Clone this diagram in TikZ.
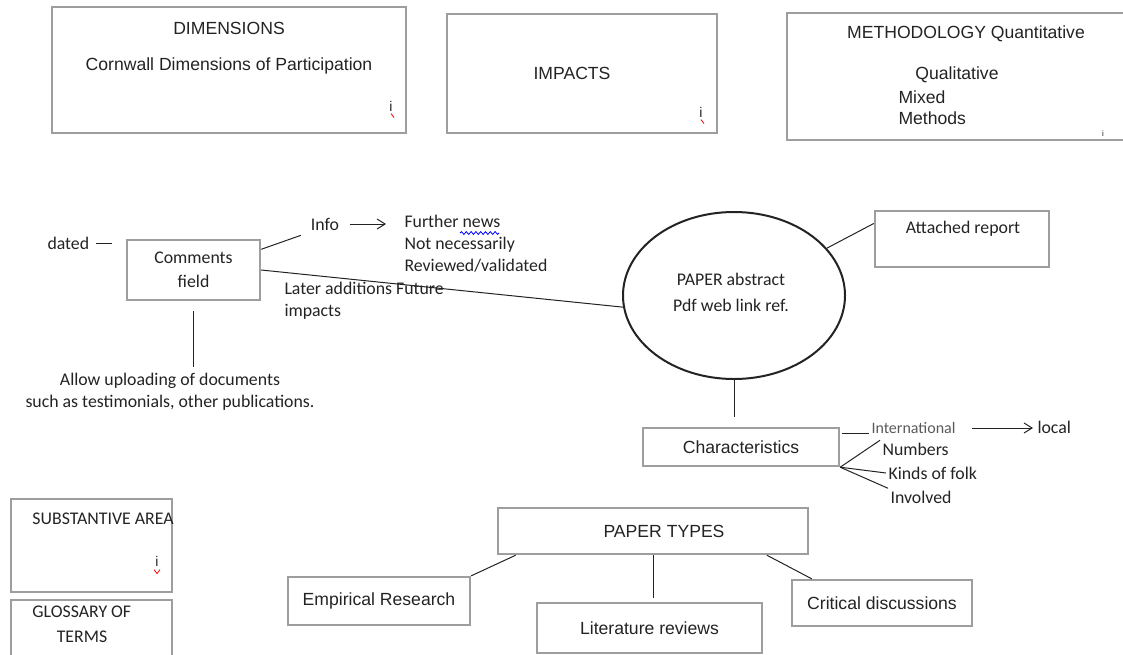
\documentclass[tikz,border=0pt]{standalone}
\usepackage{fontspec}
\setmainfont{Liberation Sans}
\newfontfamily\calfont{Carlito}
\usetikzlibrary{shapes.geometric, arrows.meta, decorations.pathmorphing}

\definecolor{boxgray}{RGB}{158,158,158}
\definecolor{ink}{RGB}{35,35,35}
\definecolor{intlgray}{RGB}{90,90,90}
\newcommand{\arialsz}{\fontsize{8.8}{10.5}\selectfont}
\newcommand{\calsz}{\calfont\fontsize{8.9}{11}\selectfont}

\begin{document}
\begin{tikzpicture}[x = 0.5pt, y = -0.5pt, % one unit = one pixel of the sketch
                > = {Straight Barb[length=4pt, width=5pt]}, % open arrow head
                line width = 0.5pt % line style
            ]

            \tikzstyle{every node}=[text = ink, inner sep = 1pt]
            \tikzstyle{box}=[draw = boxgray, line width = 1.2pt, inner sep = 0pt]
            \tikzstyle{ar}=[font = \arialsz]
            \tikzstyle{ca}=[font = \calsz]
            \tikzstyle{link}=[draw = ink]

            \useasboundingbox (0,0) rectangle (1123,654);

            % top row of boxes
            \node[box, minimum width = 177pt, minimum height = 63pt] (dim) at (229,70) {};
            \node[ar] (dimt) at (229,28) {DIMENSIONS};
            \node[ar] (dimc) at (229,66) {Cornwall Dimensions of Participation};
            \node[ar, font = \fontsize{7}{8}\selectfont] (dimi) at (391,106) {i};
            \draw[red, line width = 0.4pt] (dimi.south) -- ++(3,4);

            \node[box, minimum width = 135pt, minimum height = 59.5pt] (imp) at (582,73.5) {};
            \node[ar] (impt) at (572,73) {IMPACTS};
            \node[ar, font = \fontsize{7}{8}\selectfont] (impi) at (701,112) {i};
            \draw[red, line width = 0.4pt] (impi.south) -- ++(3,4);

            \node[box, minimum width = 172pt, minimum height = 63.5pt] (meth) at (959,76.5) {};
            \node[ar] (metht) at (966,34) {METHODOLOGY Quantitative};
            \node[ar] (qual) at (957,75) {Qualitative};
            \node[ar, anchor = west] (mix) at (896,97) {Mixed};
            \node[ar, anchor = west] (mm) at (896,118) {Methods};
            \node[ar, font = \fontsize{4}{5}\selectfont] (methi) at (1103,134) {i};

            % comments field and its notes
            \node[box, align = center, minimum width = 66.5pt, minimum height = 30pt,
                  font = \calfont\fontsize{8.9}{12}\selectfont] (com) at (193.5,270) {Comments\\field};
            \node[ca, anchor = west] (dated) at (45,243) {dated};
            \node[ca] (info) at (325,224) {Info};
            \node[ca, anchor = north west, align = left] (further) at (402,213)
                {Further news\\Not necessarily\\Reviewed/validated};
            \draw[blue, line width = 0.4pt, decorate,
                  decoration = {snake, amplitude = 0.7pt, segment length = 2.4pt}]
                  (460,233) -- (499,233);
            \node[ca, anchor = north west, align = left] (later) at (282,280)
                {Later additions Future\\impacts};
            \node[ca, align = center] (allow) at (170,392)
                {Allow uploading of documents\\such as testimonials, other publications.};

            % the paper
            \node[ellipse, draw = ink, line width = 1pt, minimum width = 111pt,
                  minimum height = 83.5pt, inner sep = 0pt] (paper) at (734,295.5) {};
            \node[ca, align = center, font = \calfont\fontsize{8.9}{13}\selectfont] (papert)
                at (731,292) {PAPER abstract\\Pdf web link ref.};
            \node[box, minimum width = 87pt, minimum height = 28pt] (att) at (962,239) {};
            \node[ca] (attt) at (963,229) {Attached report};

            % characteristics
            \node[box, ar, minimum width = 98pt, minimum height = 19pt] (char) at (741,447)
                {Characteristics};
            \node[ca, anchor = west, text = intlgray, font = \calfont\fontsize{8}{9}\selectfont]
                (intl) at (869,428) {International};
            \node[ca, anchor = west] (local) at (1035,427) {local};
            \node[ca, anchor = west] (numbers) at (880,449) {Numbers};
            \node[ca, anchor = west] (kinds) at (886,473) {Kinds of folk};
            \node[ca, anchor = west] (inv) at (888,497) {Involved};

            % left column
            \node[box, minimum width = 80.5pt, minimum height = 46.5pt] (sub) at (91.5,545.5) {};
            \node[ca, anchor = west] (subt) at (30,519) {SUBSTANTIVE AREA};
            \node[ca, font = \fontsize{7}{8}\selectfont] (subi) at (157,561) {i};
            \draw[red, line width = 0.4pt] (subi.south) ++(-3,1) -- ++(3,4) -- ++(3,-4);
            \node[box, minimum width = 80.5pt, minimum height = 30pt] (glo) at (91.5,630) {};
            \node[ca, anchor = west] (glot) at (30,612) {GLOSSARY OF};
            \node[ca] (glot2) at (82,637) {TERMS};

            % paper types
            \node[box, ar, minimum width = 155pt, minimum height = 23pt] (pt) at (653,531)
                {\hspace{11pt}PAPER TYPES};
            \node[box, ar, minimum width = 91pt, minimum height = 24pt] (emp) at (379,601)
                {Empirical Research\hspace{4pt}};
            \node[box, ar, minimum width = 112.5pt, minimum height = 25pt] (lit) at (649.5,628)
                {Literature reviews};
            \node[box, ar, minimum width = 90pt, minimum height = 23pt] (crit) at (882,603)
                {Critical discussions};

            \draw[link, shorten < = 2pt, shorten > = 7pt] (dated.east) -- (dated.east -| com.west);
            \draw[link, shorten > = 4pt] (com.17) -- (info.south west);
            \draw[link, ->, shorten < = 4pt, shorten > = 8pt] (info.east) -- (info.east -| further.west);
            \draw[link] (com.east) -- (paper.186);
            \draw[link, shorten < = 5pt, shorten > = 2pt] (com.south) -- (com.south |- allow.north);
            \draw[link] (paper.27) -- (att.170);
            \draw[link, shorten > = 5pt] (paper.south) -- (paper.south |- char.north);
            \draw[link, shorten < = 1pt] (char.east |- intl.base) -- (intl.base west);
            \draw[link, ->, shorten < = 7pt, shorten > = 1pt] (intl.east) -- (intl.east -| local.west);
            \draw[link] (char.south east) -- (numbers.north west);
            \draw[link] (char.south east) -- (kinds.west);
            \draw[link] (char.south east) -- (inv.north west);
            \draw[link] (pt.190) -- (emp.north east);
            \draw[link, shorten > = 2pt] (pt.south) -- (pt.south |- lit.north);
            \draw[link] (pt.-12) -- (crit.161);
\end{tikzpicture}
\end{document}
